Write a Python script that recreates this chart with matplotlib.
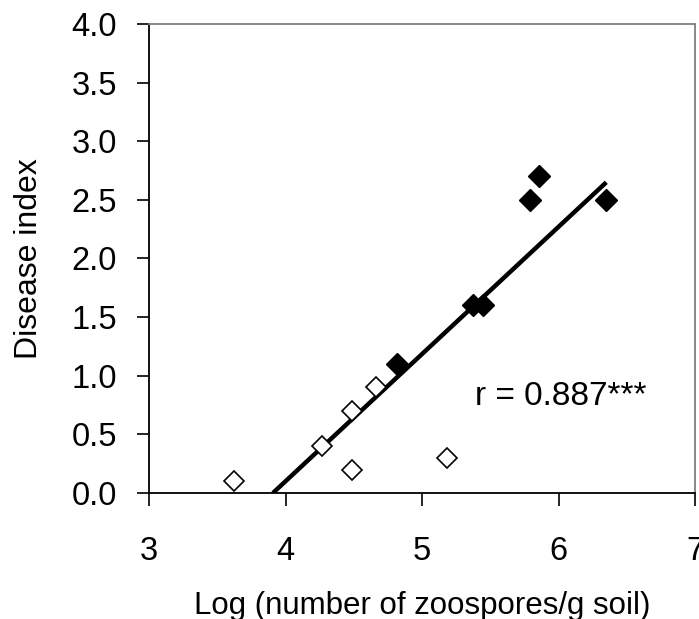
import numpy as np
import matplotlib
matplotlib.use("Agg")
import matplotlib.pyplot as plt

plt.rcParams['font.family'] = ['Liberation Sans', 'DejaVu Sans']

# open diamonds
x_open = [3.62, 4.27, 4.49, 4.66, 4.49, 5.18]
y_open = [0.1, 0.4, 0.7, 0.9, 0.2, 0.3]
# filled diamonds
x_fill = [4.82, 5.37, 5.45, 5.79, 5.86, 6.35]
y_fill = [1.1, 1.6, 1.6, 2.5, 2.7, 2.5]

r_text = "r = 0.887***"

fig = plt.figure(figsize=(6.99, 6.19), dpi=100)
ax = fig.add_axes([0.2132, 0.2036, 0.7811, 0.7576])

# regression line over all points
xs = np.array(x_open + x_fill)
ys = np.array(y_open + y_fill)
slope, icpt = np.polyfit(xs, ys, 1)
x0 = -icpt / slope
x1 = xs.max()
ax.plot([x0, x1], [slope * x0 + icpt, slope * x1 + icpt], color='black', linewidth=3.2,
        solid_capstyle='butt', zorder=2)

ax.plot(x_open, y_open, linestyle='none', marker='D', markersize=10.5,
        markerfacecolor='white', markeredgecolor='black', markeredgewidth=1.2, zorder=3)
ax.plot(x_fill, y_fill, linestyle='none', marker='D', markersize=11,
        markerfacecolor='black', markeredgecolor='black', zorder=3)

ax.text(5.39, 0.82, r_text, fontsize=24, ha='left', va='center')

ax.set_xlim(3, 7)
ax.set_ylim(0, 4)
ax.set_xticks([3, 4, 5, 6, 7])
ax.set_yticks(np.arange(0, 4.01, 0.5))
ax.set_yticklabels([f"{v:.1f}" for v in np.arange(0, 4.01, 0.5)])

ax.tick_params(axis='both', direction='out', length=9, width=1.2, labelsize=23.5)
ax.tick_params(axis='x', pad=22)
ax.tick_params(axis='y', pad=14)

for s in ['left', 'bottom']:
    ax.spines[s].set_linewidth(1.3)
    ax.spines[s].set_color('black')
for s in ['top', 'right']:
    ax.spines[s].set_linewidth(1.3)
    ax.spines[s].set_color('#808080')

ax.set_xlabel("Log (number of zoospores/g soil)", fontsize=22.5)
ax.xaxis.set_label_coords(0.5, -0.208)
ax.set_ylabel("Disease index", fontsize=23, labelpad=20)

fig.savefig("out.png", dpi=100)
